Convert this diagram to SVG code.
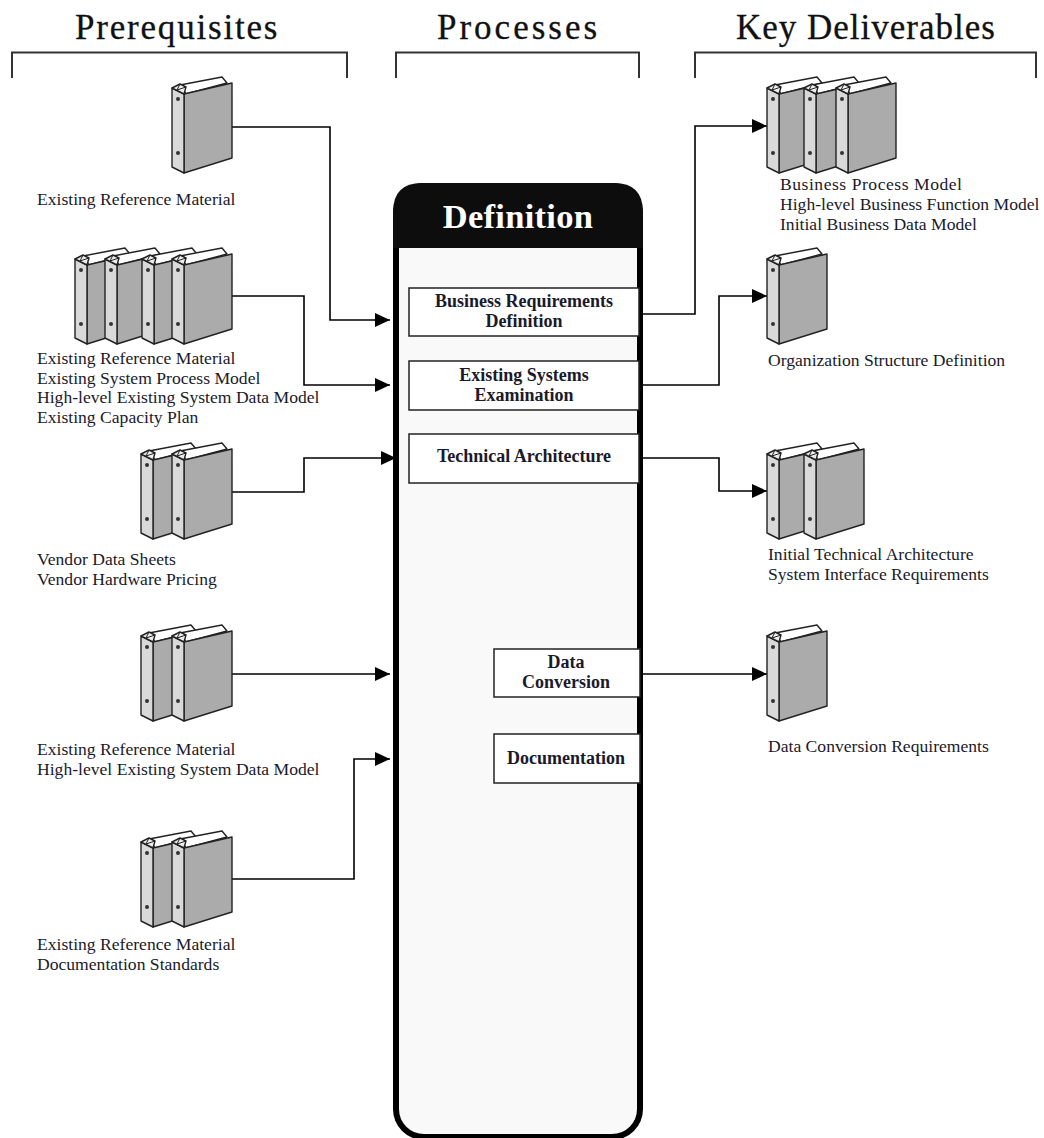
<svg xmlns="http://www.w3.org/2000/svg" xmlns:xlink="http://www.w3.org/1999/xlink" width="1044" height="1138" viewBox="0 0 1044 1138">
<style>
text{font-family:"Liberation Serif","Times New Roman",serif;fill:#1a1a2a}
.h{font-size:35px;fill:#111;stroke:#111;stroke-width:.3}
.l{font-size:17.6px}
.b{font-size:18px;font-weight:bold;text-anchor:middle}
.br{fill:none;stroke:#333;stroke-width:2}
.c{fill:none;stroke:#000;stroke-width:1.6}
.p{fill:#fff;stroke:#222;stroke-width:1.5}
</style>
<defs>
<marker id="a" markerUnits="userSpaceOnUse" markerWidth="16" markerHeight="14" refX="15" refY="7" orient="auto"><path d="M0 0L15 7L0 14z" fill="#000"/></marker>
<g id="bd" stroke="#222" stroke-width="1.4" stroke-linejoin="round">
<path d="M8 8L50 0L55 6L14 17z" fill="#fff"/>
<path d="M12 17L60 6V81L12 96z" fill="#ababab"/>
<path d="M0 11L12 17V96L0 90z" fill="#d9d9d9"/>
<path d="M0 11L8 7L14 10L12 17z" fill="#eee"/>
<path d="M8 7L5 13L14 10" fill="none" stroke-width="1"/>
<circle cx="6" cy="22" r="2" fill="#333" stroke="none"/>
<circle cx="6" cy="76" r="2" fill="#333" stroke="none"/>
</g>
</defs>
<g id="headers">
<text class="h" x="75" y="39" style="letter-spacing:1.8px">Prerequisites</text>
<text class="h" x="437" y="39" style="letter-spacing:3px">Processes</text>
<text class="h" x="736" y="39" style="letter-spacing:1px">Key Deliverables</text>
<path class="br" d="M12 78V52.500H347V78M396 78V52.500H639V78M695 78V52.500H1036V78"/>
</g>
<g id="definition">
<rect x="396" y="186" width="244" height="951" rx="28" fill="#f9f9f9" stroke="#000" stroke-width="6"/>
<path d="M393 248V212Q393 183 422 183H614Q643 183 643 212V248z" fill="#0d0d0d"/>
<text x="518" y="228" text-anchor="middle" style="font-size:34.500px;fill:#fff;font-weight:bold;letter-spacing:.3px">Definition</text>
</g>
<g id="connectors">
<path class="c" marker-end="url(#a)" d="M232 127H330V320H390"/>
<path class="c" marker-end="url(#a)" d="M232 296H304V385H390"/>
<path class="c" marker-end="url(#a)" d="M232 492H304V458H396"/>
<path class="c" marker-end="url(#a)" d="M232 674H390"/>
<path class="c" marker-end="url(#a)" d="M232 879H354V759H390"/>
<path class="c" marker-end="url(#a)" d="M640 314H695V126H767"/>
<path class="c" marker-end="url(#a)" d="M640 385H719V296H767"/>
<path class="c" marker-end="url(#a)" d="M640 458H719V491H767"/>
<path class="c" marker-end="url(#a)" d="M640 674H767"/>
</g>
<g id="p-brd"><rect class="p" x="409" y="288" width="230" height="48"/><text class="b" x="524" y="307">Business Requirements</text><text class="b" x="524" y="327">Definition</text></g>
<g id="p-ese"><rect class="p" x="409" y="361" width="230" height="49"/><text class="b" x="524" y="381">Existing Systems</text><text class="b" x="524" y="401">Examination</text></g>
<g id="p-ta"><rect class="p" x="409" y="434" width="230" height="49"/><text class="b" x="524" y="462">Technical Architecture</text></g>
<g id="p-dc"><rect class="p" x="494" y="649" width="146" height="48"/><text class="b" x="566" y="668">Data</text><text class="b" x="566" y="688">Conversion</text></g>
<g id="p-doc"><rect class="p" x="494" y="734" width="146" height="49"/><text class="b" x="566" y="764">Documentation</text></g>
<g id="pre1"><use href="#bd" x="172" y="77"/><text class="l" x="37" y="205">Existing Reference Material</text></g>
<g id="pre2"><use href="#bd" x="75" y="248"/><use href="#bd" x="105" y="248"/><use href="#bd" x="142" y="248"/><use href="#bd" x="172" y="248"/>
<text class="l" x="37" y="364">Existing Reference Material</text><text class="l" x="37" y="384">Existing System Process Model</text><text class="l" x="37" y="403">High-level Existing System Data Model</text><text class="l" x="37" y="423">Existing Capacity Plan</text></g>
<g id="pre3"><use href="#bd" x="141" y="443"/><use href="#bd" x="172" y="443"/><text class="l" x="37" y="565">Vendor Data Sheets</text><text class="l" x="37" y="585">Vendor Hardware Pricing</text></g>
<g id="pre4"><use href="#bd" x="141" y="625"/><use href="#bd" x="172" y="625"/><text class="l" x="37" y="755">Existing Reference Material</text><text class="l" x="37" y="775">High-level Existing System Data Model</text></g>
<g id="pre5"><use href="#bd" x="141" y="831"/><use href="#bd" x="172" y="831"/><text class="l" x="37" y="950">Existing Reference Material</text><text class="l" x="37" y="970">Documentation Standards</text></g>
<g id="del1"><use href="#bd" x="767" y="77"/><use href="#bd" x="804" y="77"/><use href="#bd" x="836" y="77"/><text class="l" x="780" y="190" textLength="182">Business Process Model</text><text class="l" x="780" y="210">High-level Business Function Model</text><text class="l" x="780" y="230">Initial Business Data Model</text></g>
<g id="del2"><use href="#bd" x="767" y="248"/><text class="l" x="768" y="366">Organization Structure Definition</text></g>
<g id="del3"><use href="#bd" x="767" y="443"/><use href="#bd" x="804" y="443"/><text class="l" x="768" y="560">Initial Technical Architecture</text><text class="l" x="768" y="580">System Interface Requirements</text></g>
<g id="del4"><use href="#bd" x="767" y="625"/><text class="l" x="768" y="752">Data Conversion Requirements</text></g>
</svg>
